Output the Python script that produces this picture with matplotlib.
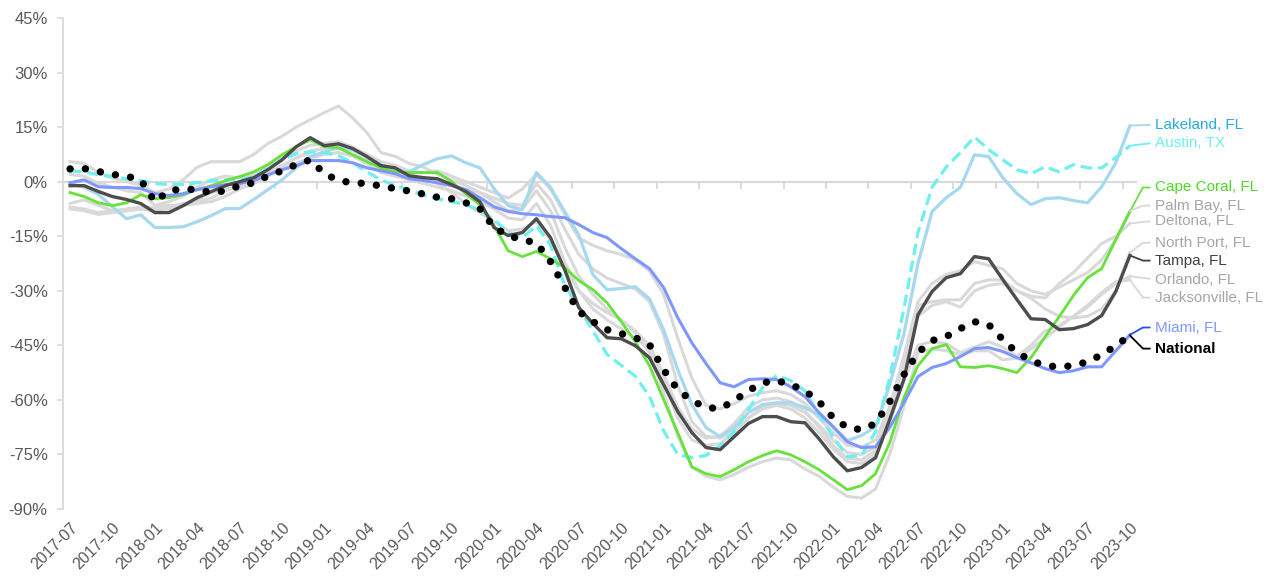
import math
import numpy as np
import pandas as pd
import matplotlib
matplotlib.use("Agg")
import matplotlib.pyplot as plt

plt.rcParams['font.family'] = ['Liberation Sans', 'DejaVu Sans']

# monthly categories 2017-07 .. 2023-10
months = pd.period_range('2017-07', '2023-10', freq='M').strftime('%Y-%m').tolist()
x = np.arange(len(months))

# % change series
national = [3.5, 3.6, 2.8, 2.0, 1.5, 0.5, -5.5, -2.5, -2.0, -2.2,
            -3.0, -2.5, -1.1, -0.3, 1.6, 3.0, 4.7, 6.0, 2.2, 0.3,
            -0.3, -0.5, -1.2, -1.9, -2.6, -3.4, -4.3, -4.7, -5.8, -7.4,
            -12.6, -14.8, -16.0, -16.8, -22.0, -29.0, -35.7, -38.5, -40.7, -41.8,
            -42.9, -44.8, -51.7, -57.2, -60.2, -62.1, -62.4, -60.2, -57.5, -55.3,
            -54.7, -55.8, -57.5, -60.5, -64.9, -67.6, -68.2, -66.5, -60.5, -53.1,
            -47.0, -43.7, -42.6, -40.4, -38.5, -39.3, -43.4, -47.0, -49.2, -50.6,
            -50.9, -50.6, -49.5, -47.6, -45.1, -42.3]
miami = [-0.3, 0.5, -1.4, -1.6, -1.6, -1.9, -3.3, -3.8, -3.3, -2.2,
         -1.4, -0.8, -0.5, 0.3, 1.9, 3.3, 4.4, 5.8, 5.8, 5.8,
         5.2, 3.8, 3.0, 2.2, 0.8, 0.3, -0.3, -1.1, -2.2, -4.4,
         -6.9, -8.2, -8.8, -9.1, -9.6, -9.9, -11.8, -14.0, -15.4, -18.4,
         -21.2, -23.9, -29.1, -37.4, -44.3, -50.0, -55.3, -56.4, -54.4, -54.2,
         -54.4, -56.4, -59.1, -63.5, -67.4, -71.5, -73.1, -72.9, -67.6, -60.8,
         -53.6, -51.1, -50.0, -48.1, -45.9, -45.6, -46.7, -48.4, -49.8, -51.4,
         -52.5, -52.0, -50.9, -50.9, -46.5, -42.1]
tampa = [-1.1, -1.1, -2.7, -4.1, -4.9, -6.0, -8.5, -8.5, -6.6, -4.4,
         -2.7, -1.1, 0.0, 1.1, 3.3, 6.0, 9.6, 12.1, 9.9, 10.4,
         9.1, 6.9, 4.4, 3.8, 1.6, 1.1, 0.8, -0.8, -2.7, -5.5,
         -12.6, -14.8, -14.0, -10.2, -15.4, -24.2, -34.6, -39.0, -42.9, -43.2,
         -45.1, -48.4, -55.8, -63.2, -69.0, -73.1, -73.7, -70.1, -66.5, -64.6,
         -64.6, -66.0, -66.3, -70.7, -75.6, -79.5, -78.6, -75.9, -65.4, -54.4,
         -36.6, -30.2, -26.4, -25.3, -20.6, -21.2, -26.9, -32.4, -37.7, -37.9,
         -40.7, -40.4, -39.3, -36.8, -30.2, -20.3]
cape_coral = [-3.0, -4.1, -5.8, -6.6, -5.8, -3.6, -4.7, -4.4, -3.6, -2.2,
              -1.1, 0.3, 1.4, 2.7, 4.7, 7.4, 9.6, 11.5, 9.6, 9.3,
              7.4, 5.5, 3.8, 2.7, 2.5, 2.5, 2.5, 0.0, -3.3, -6.3,
              -12.1, -19.0, -20.6, -19.2, -21.2, -23.6, -27.2, -29.7, -33.3, -38.5,
              -44.0, -50.6, -59.9, -69.0, -78.4, -80.3, -81.1, -79.2, -77.0, -75.3,
              -74.0, -75.1, -77.0, -79.2, -81.9, -84.7, -83.6, -80.3, -71.8, -59.4,
              -50.6, -45.9, -44.8, -50.9, -51.1, -50.6, -51.4, -52.5, -48.4, -42.6,
              -37.1, -31.3, -26.4, -23.9, -15.9, -8.2]
lakeland = [-0.5, -1.5, -3.5, -6.9, -10.2, -9.1, -12.6, -12.6, -12.4, -11.0,
            -9.3, -7.4, -7.4, -4.9, -2.2, 0.5, 3.8, 6.9, 8.2, 9.3,
            8.8, 7.1, 4.7, 3.0, 2.7, 4.7, 6.3, 7.1, 5.2, 3.8,
            -1.9, -6.6, -7.7, 2.5, -1.6, -8.2, -14.6, -25.6, -29.7, -29.4,
            -28.9, -32.2, -40.7, -51.7, -61.3, -67.6, -70.1, -67.6, -63.5, -61.3,
            -60.8, -60.8, -62.1, -64.1, -67.4, -71.2, -69.8, -67.4, -55.8, -42.0,
            -22.5, -8.2, -4.4, -1.6, 7.4, 6.9, 1.1, -3.3, -6.3, -4.7,
            -4.4, -5.2, -5.8, -1.4, 5.2, 15.4]
austin = [3.0, 2.7, 1.9, 1.4, 0.8, 0.3, -0.5, -0.8, -0.8, -0.3,
          0.3, 0.5, 0.5, 1.4, 3.6, 6.0, 7.7, 8.2, 8.0, 7.1,
          5.2, 2.7, 0.5, -1.1, -2.2, -3.8, -4.7, -5.5, -6.3, -8.0,
          -10.4, -14.0, -15.4, -12.1, -17.5, -28.5, -34.5, -41.0, -47.5, -50.5,
          -53.5, -59.0, -68.5, -75.0, -75.9, -75.3, -72.6, -68.7, -62.7, -56.6,
          -53.3, -54.7, -57.5, -64.1, -70.1, -75.6, -75.3, -68.7, -54.0, -35.0,
          -14.0, -1.5, 4.0, 8.0, 12.3, 8.8, 6.0, 3.3, 2.2, 4.1,
          2.7, 4.7, 3.8, 3.8, 6.6, 9.9]
palm_bay = [2.0, 1.5, -0.5, -1.5, -2.5, -3.0, -6.5, -5.5, -4.0, -1.5,
            0.5, 1.5, 1.0, 2.0, 4.0, 6.5, 8.5, 10.0, 10.5, 11.0,
            9.5, 7.5, 5.5, 4.5, 3.0, 2.5, 3.0, 1.5, 0.0, -1.5,
            -3.0, -4.5, -2.0, 2.0, -2.0, -9.0, -15.5, -17.5, -19.0, -20.0,
            -21.5, -24.5, -31.0, -43.0, -54.0, -61.5, -62.5, -61.0, -59.0, -58.0,
            -57.5, -58.5, -61.0, -65.0, -69.0, -72.5, -73.0, -71.0, -62.0, -48.0,
            -33.0, -28.0, -25.5, -24.5, -22.0, -23.0, -24.0, -28.0, -30.0, -31.0,
            -29.0, -27.0, -25.0, -21.5, -16.0, -8.0]
deltona = [-6.0, -5.0, -6.5, -8.0, -8.0, -7.5, -8.0, -7.0, -6.0, -5.5,
           -4.5, -2.5, -1.0, 0.5, 2.5, 4.5, 6.5, 8.5, 9.0, 9.5,
           8.5, 6.0, 3.5, 2.0, 1.0, 0.5, 0.0, -1.0, -2.0, -3.0,
           -4.5, -6.0, -6.5, -0.5, -5.0, -13.0, -20.0, -24.0, -26.5, -28.0,
           -29.5, -33.0, -42.0, -56.0, -66.0, -70.0, -70.5, -68.5, -65.0, -62.0,
           -61.0, -61.5, -63.5, -67.0, -71.0, -74.5, -75.0, -73.0, -64.0, -50.0,
           -34.0, -33.0, -32.5, -32.5, -28.0, -27.0, -27.0, -30.0, -31.5, -32.0,
           -28.0, -25.0, -21.0, -17.0, -15.0, -11.5]
north_port = [5.5, 5.0, 2.5, 1.0, 0.0, -1.0, -3.0, -2.0, 0.5, 4.0,
              5.5, 5.5, 5.5, 7.5, 10.5, 12.5, 15.0, 17.0, 19.0, 20.8,
              17.5, 13.5, 8.0, 7.0, 5.0, 4.0, 2.0, 0.5, -1.0, -3.0,
              -5.5, -8.0, -7.5, -2.5, -8.0, -18.0, -26.0, -31.0, -35.0, -38.0,
              -41.0, -45.0, -53.0, -62.0, -68.0, -70.5, -70.0, -66.5, -62.0, -60.0,
              -59.5, -60.5, -63.0, -67.5, -72.5, -76.0, -76.5, -74.0, -62.0, -50.0,
              -37.0, -34.0, -33.0, -34.5, -30.0, -28.5, -28.0, -30.0, -32.0, -35.0,
              -37.0, -37.5, -37.0, -35.0, -30.0, -19.5]
orlando = [-7.0, -7.5, -8.5, -8.0, -7.5, -7.0, -7.5, -7.5, -6.5, -6.0,
           -5.5, -4.0, -2.0, -0.5, 1.5, 3.5, 5.0, 6.5, 7.5, 8.0,
           7.0, 5.0, 2.5, 1.5, 0.5, -0.5, -1.5, -2.5, -4.0, -5.5,
           -7.5, -10.0, -10.5, -6.0, -12.0, -22.0, -30.0, -35.0, -38.0, -40.5,
           -43.0, -46.0, -55.0, -65.0, -71.0, -72.5, -72.0, -69.0, -65.0, -62.5,
           -61.5, -62.5, -65.0, -69.0, -73.5, -77.0, -77.5, -75.0, -66.0, -55.0,
           -45.0, -44.0, -44.5, -47.0, -45.5, -44.0, -45.5, -48.0, -45.0, -41.0,
           -39.5, -37.0, -34.5, -31.0, -28.0, -26.0]
jacksonville = [-7.5, -8.0, -9.0, -8.5, -8.0, -7.5, -7.0, -6.5, -6.5, -5.0,
                -3.0, -2.0, -1.5, 0.0, 2.0, 4.0, 6.5, 8.0, 9.5, 10.0,
                9.0, 6.5, 3.5, 2.5, 2.0, 1.0, -0.5, -3.0, -6.0, -8.5,
                -11.0, -13.5, -13.0, -11.0, -16.0, -24.0, -30.0, -33.5, -36.0, -38.0,
                -41.5, -47.0, -58.0, -70.0, -78.5, -81.0, -82.0, -80.5, -78.5, -77.0,
                -76.0, -76.5, -79.0, -81.0, -84.0, -86.5, -87.0, -84.5, -75.0, -62.0,
                -47.0, -46.0, -46.5, -47.5, -46.5, -46.5, -49.0, -48.5, -46.0, -43.0,
                -40.0, -37.0, -34.0, -30.5, -27.5, -27.0]

GRAY = '#d9d9d9'
LABEL_GRAY = '#a6a6a6'

fig = plt.figure(figsize=(12.78, 5.78), dpi=100)
ax = fig.add_axes([63 / 1278, 1 - 509 / 578, (1137 - 63) / 1278, (509 - 18) / 578])

ax.axhline(0, color=GRAY, lw=1.5, zorder=1)

for vals in [palm_bay, deltona, north_port, orlando, jacksonville]:
    ax.plot(x, vals, color=GRAY, lw=2.2, zorder=2)

ax.plot(x, lakeland, color='#a6d8ef', lw=2.3, zorder=3)
ax.plot(x, austin, color='#6ff0ee', lw=2.3, linestyle=(0, (3.6, 1.8)), zorder=3)
ax.plot(x, cape_coral, color='#66e23a', lw=2.0, zorder=3)
ax.plot(x, miami, color='#7f97ff', lw=2.2, zorder=3)
ax.plot(x, tampa, color='#4d4d4d', lw=2.4, zorder=4)
ax.plot(x, national, color='black', lw=5.3, linestyle=(0, (0.01, 2.07)),
        dash_capstyle='round', zorder=5)

ax.set_xlim(-0.5, len(x) - 0.5)
ax.set_ylim(-90, 45)

yt = np.arange(-90, 46, 15)
ax.set_yticks(yt)
ax.set_yticklabels([f'{v}%' for v in yt])
ax.tick_params(axis='y', length=4, width=1.2, color=GRAY, labelcolor='#595959',
               labelsize=12, pad=7)

ax.set_xticks(x[::3])
ax.set_xticklabels(months[::3], rotation=45, ha='right', rotation_mode='anchor')
ax.tick_params(axis='x', length=0, pad=8, labelsize=11.5, labelcolor='#595959')

for s in ['top', 'right', 'bottom']:
    ax.spines[s].set_visible(False)
ax.spines['left'].set_color(GRAY)
ax.spines['left'].set_linewidth(1.3)

# category tick marks sitting on the zero line
sec = ax.secondary_xaxis(0, transform=ax.transData)
sec.set_xticks(np.arange(-0.5, len(x), 3))
sec.tick_params(axis='x', direction='out', length=5, width=1.3, color=GRAY,
                labelbottom=False, labeltop=False)
for s in sec.spines.values():
    s.set_visible(False)

# end labels with leader lines
px_per_pct = ax.get_position().height * 578 / 135
labels = [
    ('Lakeland, FL', lakeland, 15.7, '#29abe2', '#a6d8ef', 'normal'),
    ('Austin, TX', austin, 10.7, '#6ff0ee', '#6ff0ee', 'normal'),
    ('Cape Coral, FL', cape_coral, -1.6, '#4fd924', '#66e23a', 'normal'),
    ('Palm Bay, FL', palm_bay, -6.6, LABEL_GRAY, GRAY, 'normal'),
    ('Deltona, FL', deltona, -10.7, LABEL_GRAY, GRAY, 'normal'),
    ('North Port, FL', north_port, -16.8, LABEL_GRAY, GRAY, 'normal'),
    ('Tampa, FL', tampa, -21.7, '#404040', '#404040', 'normal'),
    ('Orlando, FL', orlando, -26.9, LABEL_GRAY, GRAY, 'normal'),
    ('Jacksonville, FL', jacksonville, -31.9, LABEL_GRAY, GRAY, 'normal'),
    ('Miami, FL', miami, -40.1, '#7f97ff', '#1f4fff', 'normal'),
    ('National', national, -45.9, 'black', 'black', 'bold'),
]
for name, vals, ly, tc, lc, w in labels:
    dy = (ly - vals[-1]) * px_per_pct
    if abs(dy) < 4:
        cs = 'arc3'
    else:
        cs = f'angle,angleA=0,angleB={math.degrees(math.atan2(dy, 13)):.1f},rad=0'
    ax.annotate(name, xy=(x[-1], vals[-1]), xytext=(76.8, ly), textcoords='data',
                ha='left', va='center', fontsize=11, color=tc, fontweight=w,
                annotation_clip=False,
                arrowprops=dict(arrowstyle='-', color=lc, lw=1.3, shrinkA=2,
                                shrinkB=0, relpos=(0, 0.5), connectionstyle=cs))

fig.savefig('out.png', dpi=100)
